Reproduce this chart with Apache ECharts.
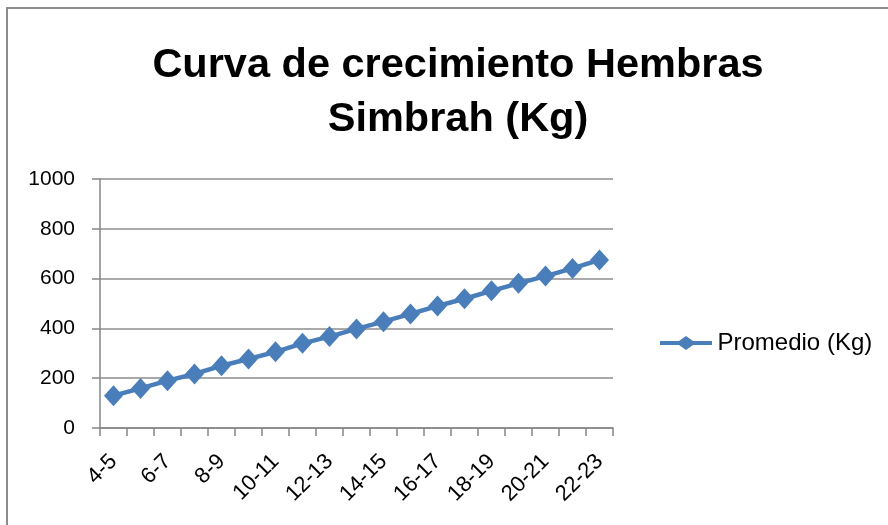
<!DOCTYPE html>
<html>
<head>
<meta charset="utf-8">
<script src="https://cdn.jsdelivr.net/npm/echarts@6/dist/echarts.min.js"></script>
<style>html,body{margin:0;padding:0;background:#fff;}#c{width:888px;height:525px;}</style>
</head>
<body>
<div id="c"></div>
<script>
const categories = ['4-5','5-6','6-7','7-8','8-9','9-10','10-11','11-12','12-13','13-14','14-15','15-16','16-17','17-18','18-19','19-20','20-21','21-22','22-23'];
const promedio = [130,159,190,217,250,277,306,340,367,398,427,458,490,519,551,581,610,641,675];
const yTicks = [0,200,400,600,800,1000];
const seriesName = 'Promedio (Kg)';
const titleText = 'Curva de crecimiento Hembras\nSimbrah (Kg)';

const FONT = 'Liberation Sans';
const chart = echarts.init(document.getElementById('c'), null, {renderer:'canvas'});
chart.setOption({
  backgroundColor:'#fff',
  animation:false,
  graphic:[{type:'rect',shape:{x:7,y:8,width:900,height:540},style:{fill:'none',stroke:'#8c8c8c',lineWidth:2},z:-1}],
  title:{text:titleText,left:453,textAlign:'center',top:34,
    textStyle:{fontFamily:FONT,fontWeight:'bold',fontSize:41.5,lineHeight:54,color:'#000'}},
  legend:{data:[{name:seriesName,icon:'path://M0,5 L19,5 L26,0 L33,5 L52,5 L52,9 L33,9 L26,14 L19,9 L0,9 Z'}],
    left:655,top:326,itemWidth:53,itemHeight:14,
    textStyle:{fontFamily:FONT,fontSize:24,color:'#000'}},
  grid:{left:100,right:275,top:179,bottom:97,containLabel:false},
  xAxis:{type:'category',data:categories,boundaryGap:true,
    axisLine:{lineStyle:{color:'#868686',width:1.5}},
    axisTick:{show:true,length:8,interval:0,lineStyle:{color:'#868686',width:1.5}},
    axisLabel:{interval:1,rotate:45,fontFamily:FONT,fontSize:22,color:'#000',margin:30}},
  yAxis:{type:'value',min:0,max:1000,interval:200,
    axisLine:{show:true,lineStyle:{color:'#868686',width:1.5}},
    axisTick:{show:true,length:8,lineStyle:{color:'#868686',width:1.5}},
    splitLine:{lineStyle:{color:'#8c8c8c',width:1.5}},
    axisLabel:{fontFamily:FONT,fontSize:21,color:'#000',margin:25,
      formatter:v=>yTicks.includes(v)?String(v):''}},
  series:[{name:seriesName,type:'line',data:promedio,symbol:'diamond',symbolSize:[19,21],showAllSymbol:true,
    itemStyle:{color:'#4a7ebb'},lineStyle:{color:'#4a7ebb',width:4.5}}]
});
</script>
</body>
</html>
